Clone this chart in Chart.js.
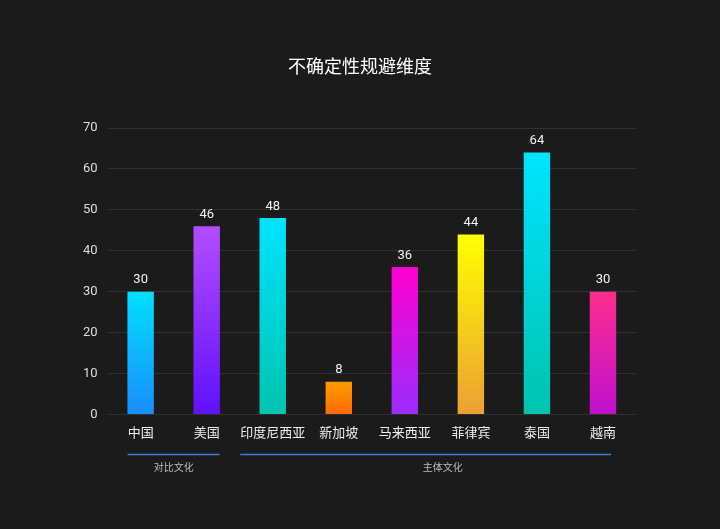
<!DOCTYPE html>
<html>
<head>
<meta charset="utf-8">
<script src="https://cdn.jsdelivr.net/npm/chart.js@4/dist/chart.umd.min.js"></script>
<style>
  html, body { margin: 0; padding: 0; background: #1b1b1b; }
  #wrap { width: 720px; height: 529px; position: relative; }
</style>
</head>
<body>
<div id="wrap"><canvas id="c" width="720" height="529"></canvas></div>
<script>
const titleText = '不确定性规避维度';
const categories = ['中国', '美国', '印度尼西亚', '新加坡', '马来西亚', '菲律宾', '泰国', '越南'];
const values = [30, 46, 48, 8, 36, 44, 64, 30];
const topColors = ['#00e0ff', '#b44cff', '#00e4ff', '#ff9a00', '#ff00d0', '#ffff00', '#00e4ff', '#ff2d8c'];
const bottomColors = ['#1a8cff', '#6010ff', '#00c4b0', '#ff6a00', '#9a2cff', '#eba035', '#00c4ae', '#c010d0'];
const groupLabels = ['对比文化', '主体文化'];
const groupStart = [0, 2];
const groupEnd = [1, 7];
const yTicks = [0, 10, 20, 30, 40, 50, 60, 70];

const FONT = "Roboto, 'Noto Sans CJK SC', sans-serif";

const titlePlugin = {
  id: 'centerTitle',
  afterDraw(chart) {
    const ctx = chart.ctx;
    ctx.save();
    ctx.fillStyle = '#ffffff';
    ctx.font = '18px ' + FONT;
    ctx.textAlign = 'center';
    ctx.textBaseline = 'middle';
    ctx.fillText(titleText, chart.width / 2, 68);
    ctx.restore();
  }
};

const valueLabels = {
  id: 'valueLabels',
  afterDatasetsDraw(chart) {
    const ctx = chart.ctx;
    const meta = chart.getDatasetMeta(0);
    ctx.save();
    ctx.fillStyle = '#f2f2f2';
    ctx.font = '13px ' + FONT;
    ctx.textAlign = 'center';
    ctx.textBaseline = 'bottom';
    meta.data.forEach((bar, i) => {
      ctx.fillText(String(values[i]), bar.x, bar.y - 5);
    });
    ctx.restore();
  }
};

const groupBrackets = {
  id: 'groupBrackets',
  afterDraw(chart) {
    const ctx = chart.ctx;
    const xs = chart.scales.x;
    const lineY = chart.chartArea.bottom + 40;
    ctx.save();
    ctx.font = '13px ' + FONT;
    const half = (i) => ctx.measureText(categories[i]).width / 2;
    groupLabels.forEach((lab, g) => {
      const a = groupStart[g], b = groupEnd[g];
      const x0 = xs.getPixelForValue(a) - half(a);
      const x1 = xs.getPixelForValue(b) + half(b) - (g === 1 ? 5 : 0);
      ctx.strokeStyle = '#3580d4';
      ctx.lineWidth = 1.5;
      ctx.beginPath();
      ctx.moveTo(x0, lineY);
      ctx.lineTo(x1, lineY);
      ctx.stroke();
      ctx.fillStyle = '#bbbbbb';
      ctx.font = '10px ' + FONT;
      ctx.textAlign = 'center';
      ctx.textBaseline = 'middle';
      const mid = (xs.getPixelForValue(a) + xs.getPixelForValue(b)) / 2;
      ctx.fillText(lab, mid + (g === 1 ? 5 : 0), lineY + 14);
      ctx.font = '13px ' + FONT;
    });
    ctx.restore();
  }
};

const bgPlugin = {
  id: 'bg',
  beforeDraw(chart) {
    const ctx = chart.ctx;
    ctx.save();
    ctx.fillStyle = '#1b1b1b';
    ctx.fillRect(0, 0, chart.width, chart.height);
    ctx.restore();
  }
};

new Chart(document.getElementById('c'), {
  type: 'bar',
  data: {
    labels: categories,
    datasets: [{
      data: values,
      backgroundColor: (c) => {
        const chart = c.chart;
        const i = c.dataIndex;
        if (!chart.chartArea || i === undefined) return topColors[i || 0];
        const ys = chart.scales.y;
        const top = ys.getPixelForValue(values[i]);
        const base = ys.getPixelForValue(0);
        const g = chart.ctx.createLinearGradient(0, top, 0, base);
        g.addColorStop(0, topColors[i]);
        g.addColorStop(1, bottomColors[i]);
        return g;
      },
      borderWidth: 0,
      barPercentage: 0.4,
      categoryPercentage: 1.0
    }]
  },
  options: {
    responsive: false,
    animation: false,
    devicePixelRatio: 1,
    layout: { padding: { left: 73, right: 84, top: 128, bottom: 75 } },
    plugins: {
      legend: { display: false },
      tooltip: { enabled: false },
      title: { display: false }
    },
    scales: {
      x: {
        grid: { display: false, drawTicks: false },
        border: { display: false },
        ticks: { color: '#eeeeee', font: { family: FONT, size: 13 }, padding: 12, maxRotation: 0, autoSkip: false }
      },
      y: {
        min: 0, max: 70,
        afterBuildTicks: (axis) => { axis.ticks = yTicks.map(v => ({ value: v })); },
        grid: { color: '#303030', lineWidth: 1, drawTicks: false },
        border: { display: false },
        ticks: { color: '#dddddd', font: { family: FONT, size: 13 }, padding: 10 }
      }
    }
  },
  plugins: [bgPlugin, valueLabels, groupBrackets, titlePlugin]
});
</script>
</body>
</html>
